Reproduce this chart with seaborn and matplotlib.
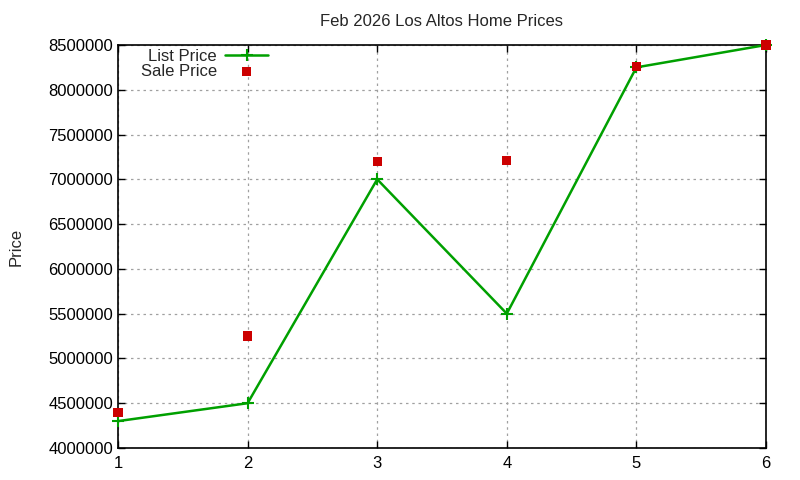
import numpy as np
import pandas as pd
import matplotlib
matplotlib.use("Agg")
import matplotlib.pyplot as plt
import seaborn as sns

# data
house = [1, 2, 3, 4, 5, 6]
list_price = [4300000, 4500000, 7000000, 5500000, 8250000, 8500000]
sale_price = [4400000, 5250000, 7200000, 7210000, 8260000, 8500000]

df = pd.DataFrame({"house": house, "List Price": list_price, "Sale Price": sale_price})

sns.set_style("white")
plt.rcParams["font.family"] = ["Liberation Sans", "DejaVu Sans"]

fig = plt.figure(figsize=(8, 4.8), dpi=100)
ax = fig.add_axes([0.1475, 0.0667, 0.81, 0.8396])

sns.lineplot(data=df, x="house", y="List Price", ax=ax, color="#00a000",
             linewidth=1.8, marker="+", markersize=8, markeredgewidth=1.5,
             markeredgecolor="#00a000", label="List Price", zorder=3, clip_on=False)
sns.scatterplot(data=df, x="house", y="Sale Price", ax=ax, color="#cc0000",
                marker="s", s=45, edgecolor="none", label="Sale Price", zorder=4,
                clip_on=False)

ax.set_xlim(1, 6)
ax.set_ylim(4000000, 8500000)
ax.set_xticks(range(1, 7))
ax.set_yticks(np.arange(4000000, 8500001, 500000))
ax.yaxis.set_major_formatter(matplotlib.ticker.FuncFormatter(lambda v, p: f"{int(v)}"))
ax.tick_params(direction="in", length=5, width=1, labelsize=12, colors="black",
               top=True, right=True, left=True, bottom=True)
ax.tick_params(axis="x", pad=6)
ax.grid(True, color="#a0a0a0", linestyle=(0, (2, 3)), linewidth=0.9)
for sp in ax.spines.values():
    sp.set_color("black")
    sp.set_linewidth(1.2)

ax.set_title("Feb 2026 Los Altos Home Prices", fontsize=12, pad=14)
ax.set_xlabel("")
ax.set_ylabel("Price", fontsize=12, labelpad=18)

# legend sits inside the frame, text right of key like gnuplot
ax.legend(loc="upper left", bbox_to_anchor=(0.017, 1.02), frameon=False, markerfirst=False,
          fontsize=12, handlelength=2.6, labelspacing=0.0, borderaxespad=0.3,
          handletextpad=0.5)

plt.savefig("out.png", dpi=100)
plt.close(fig)
